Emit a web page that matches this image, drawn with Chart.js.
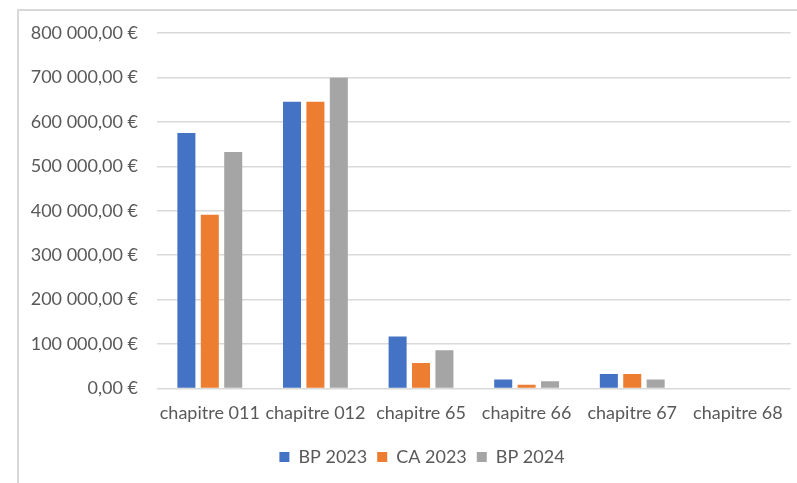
<!DOCTYPE html>
<html>
<head>
<meta charset="utf-8">
<script src="https://cdn.jsdelivr.net/npm/chart.js@4.4.0/dist/chart.umd.min.js"></script>
<style>
    body { margin: 0; background: #fff; }
    #cadre {
        position: absolute; left: 17px; top: 9px; right: 0; bottom: 0;
        border-top: 2px solid #d9d9d9; border-left: 2px solid #d9d9d9;
    }
    #depenses { position: absolute; left: 0; top: 0; }
</style>
</head>
<body>
<div id="cadre"></div>
<canvas id="depenses" width="797" height="483"></canvas>
<script>
// Chapitres budgétaires
const chapitres = ["chapitre 011", "chapitre 012", "chapitre 65", "chapitre 66", "chapitre 67", "chapitre 68"];

// Montants par chapitre (en euros)
const bp2023 = [575000, 645000, 117000, 20000, 32500, 0];
const ca2023 = [391000, 645000, 57000, 8000, 32500, 0];
const bp2024 = [532000, 699000, 86000, 16000, 20000, 0];

// Graduations de l'axe des montants
const montantMin = 0;
const montantMax = 800000;
const montantPas = 100000;

const gris = "#595959";

function formatEuro(v) {
    var entier = Math.round(v).toString().replace(/\B(?=(\d{3})+(?!\d))/g, " ");
    return entier + ",00 €";
}

// décale la légende vers la droite pour la centrer sous les barres
const decalageLegende = {
    id: "decalageLegende",
    afterLayout: function (chart) {
        if (chart.legend) {
            chart.legend.left += 51;
        }
    },
};

const $depenses = document.querySelector("#depenses");

new Chart($depenses, {
    type: "bar",
    data: {
        labels: chapitres,
        datasets: [
            { label: "BP 2023", data: bp2023, backgroundColor: "#4472C4" },
            { label: "CA 2023", data: ca2023, backgroundColor: "#ED7D31" },
            { label: "BP 2024", data: bp2024, backgroundColor: "#A5A5A5" },
        ],
    },
    plugins: [decalageLegende],
    options: {
        responsive: false,
        animation: false,
        categoryPercentage: 0.665,
        barPercentage: 0.77,
        layout: {
            padding: { top: 33, right: 4, left: 0, bottom: 7 },
        },
        font: { family: "Lato", size: 18 },
        plugins: {
            tooltip: { enabled: false },
            legend: {
                position: "bottom",
                labels: {
                    color: gris,
                    boxWidth: 10,
                    boxHeight: 10,
                    padding: 10,
                    font: { family: "Lato", size: 18 },
                },
            },
        },
        scales: {
            x: {
                grid: { display: false, drawTicks: false },
                border: { display: false },
                ticks: {
                    color: gris,
                    padding: 14,
                    maxRotation: 0,
                    autoSkip: false,
                    font: { family: "Lato", size: 18 },
                },
            },
            y: {
                min: montantMin,
                max: montantMax,
                afterFit: function (scale) { scale.width = 157; },
                grid: { color: "#d9d9d9", lineWidth: 1.5, drawTicks: false },
                border: { display: false },
                ticks: {
                    stepSize: montantPas,
                    color: gris,
                    padding: 19,
                    font: { family: "Lato", size: 18 },
                    callback: function (value) { return formatEuro(value); },
                },
            },
        },
    },
});
</script>
</body>
</html>
